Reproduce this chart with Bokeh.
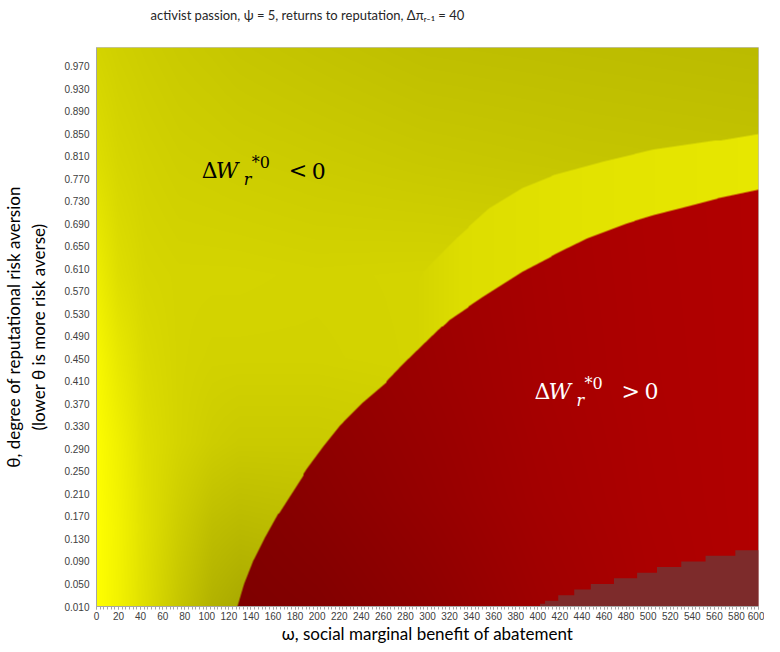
import numpy as np
from bokeh.plotting import figure
from bokeh.models import Range1d, FixedTicker, Label, NumeralTickFormatter, Title
from bokeh.embed import file_html
from bokeh.resources import INLINE

# ---------------- data ----------------
TITLE = "activist passion, ψ = 5, returns to reputation, Δπᵣ₋₁ = 40"
X_LABEL = "ω, social marginal benefit of abatement"
Y_LABEL = "θ, degree of reputational risk aversion\n(lower θ is more risk averse)"

x_ticks = [0, 20, 40, 60, 80, 100, 120, 140, 160, 180, 200, 220, 240, 260, 280, 300,
           320, 340, 360, 380, 400, 420, 440, 460, 480, 500, 520, 540, 560, 580, 600]
y_ticks = [0.010, 0.050, 0.090, 0.130, 0.170, 0.210, 0.250, 0.290, 0.330, 0.370, 0.410,
           0.450, 0.490, 0.530, 0.570, 0.610, 0.650, 0.690, 0.730, 0.770, 0.810, 0.850,
           0.890, 0.930, 0.970]

# sign-change boundary of ΔW_r*0 (below/right of it ΔW_r*0 > 0)
boundary_omega = [128, 134, 142, 153, 164, 177, 191, 206, 221, 240, 262, 278, 301, 320,
                  350, 386, 420, 445, 480, 505, 535, 564, 600]
boundary_theta = [0.010, 0.050, 0.090, 0.133, 0.172, 0.212, 0.255, 0.295, 0.332, 0.370,
                  0.407, 0.440, 0.484, 0.520, 0.560, 0.605, 0.640, 0.664, 0.690, 0.705,
                  0.720, 0.735, 0.750]

# upper edge of the lighter band of the ΔW_r*0 < 0 surface
band_omega = [262, 268, 275, 285, 296, 326, 356, 386, 415, 460, 505, 564, 600]
band_theta = [0.407, 0.460, 0.520, 0.570, 0.605, 0.664, 0.717, 0.753, 0.776, 0.800,
              0.821, 0.838, 0.850]

# lowest band of the ΔW_r*0 > 0 surface (stepped, bottom right)
low_omega = [402, 406.5, 418.5, 433, 448, 469, 490, 508, 530, 552, 579]
low_theta = [0.015, 0.020, 0.030, 0.040, 0.050, 0.060, 0.070, 0.080, 0.090, 0.100, 0.110]

X0, X1 = 0, 600
Y0, Y1 = 0.01, 1.003

# ---------------- surface shading (style) ----------------
ygx = [0, 20, 45, 75, 105, 130, 200, 300, 450, 600]
ygy = [0.01, 0.15, 0.30, 0.45, 0.60, 0.80, 1.00]
ygv = [[255, 242, 222, 198, 178, 170, 175, 180, 185, 185],
       [255, 243, 224, 205, 190, 186, 190, 195, 195, 195],
       [253, 240, 222, 212, 205, 202, 202, 205, 205, 205],
       [248, 232, 218, 212, 210, 210, 210, 212, 212, 212],
       [238, 222, 214, 212, 212, 212, 211, 212, 210, 208],
       [222, 214, 210, 207, 206, 205, 203, 200, 197, 195],
       [212, 208, 205, 202, 200, 198, 195, 191, 189, 187]]
rgx = [125, 200, 300, 400, 500, 600]
rgy = [0.01, 0.2, 0.4, 0.75]
rgv = [[126, 130, 142, 158, 170, 177],
       [130, 138, 150, 163, 172, 177],
       [135, 145, 155, 166, 173, 177],
       [140, 150, 160, 168, 174, 177]]
band_gx = [262, 290, 330, 450, 600]
band_gv = [205, 212, 221, 227, 231]


def bilinear(gx, gy, gv, xs, ys):
    rows = np.array([np.interp(xs, gx, r) for r in gv])
    gy = np.asarray(gy)
    idx = np.clip(np.searchsorted(gy, ys) - 1, 0, len(gy) - 2)
    t = np.clip((ys - gy[idx]) / (gy[idx + 1] - gy[idx]), 0, 1)
    return rows[idx] * (1 - t)[:, None] + rows[idx + 1] * t[:, None]


W, H = 670, 562
S = 4
xs = (np.arange(W) + 0.5) / W * (X1 - X0) + X0
ys = (np.arange(H) + 0.5) / H * (Y1 - Y0) + Y0
xs_s = (np.arange(W * S) + 0.5) / (W * S) * (X1 - X0) + X0
ys_s = (np.arange(H * S) + 0.5) / (H * S) * (Y1 - Y0) + Y0

yel = bilinear(ygx, ygy, ygv, xs, ys)
red = bilinear(rgx, rgy, rgv, xs, ys)
band = np.maximum(yel, np.interp(xs, band_gx, band_gv)[None, :])

b_top_s = np.interp(xs_s, boundary_omega, boundary_theta, left=-1.0)
band_top_s = np.interp(xs_s, band_omega, band_theta, left=-1.0)
red_s = ys_s[:, None] < b_top_s[None, :]
band_s = (~red_s) & (ys_s[:, None] < band_top_s[None, :]) & (xs_s[None, :] >= 262)
cov_red = red_s.reshape(H, S, W, S).mean(axis=(1, 3))
cov_band = band_s.reshape(H, S, W, S).mean(axis=(1, 3))
cov_yel = 1.0 - cov_red - cov_band

Rc = cov_yel * yel + cov_band * band + cov_red * red
Gc = cov_yel * yel + cov_band * band

img = np.zeros((H, W, 4), dtype=np.uint8)
img[..., 0] = np.clip(np.round(Rc), 0, 255)
img[..., 1] = np.clip(np.round(Gc), 0, 255)
img[..., 2] = 0
img[..., 3] = 255
rgba = img.view(dtype=np.uint32).reshape((H, W))

# ---------------- figure ----------------
p = figure(width=764, height=646, x_range=Range1d(X0, X1), y_range=Range1d(Y0, Y1),
           output_backend="svg", toolbar_location=None,
           min_border_left=92, min_border_right=6, min_border_top=47, min_border_bottom=20,
           title=TITLE)
p.grid.visible = False
p.background_fill_color = "white"
p.outline_line_color = "#BFBFBF"

p.image_rgba(image=[rgba], x=X0, y=Y0, dw=X1 - X0, dh=Y1 - Y0)

# stepped lowest band
px, py = [low_omega[0]], [Y0]
for k in range(len(low_omega)):
    xa = low_omega[k]
    xb = low_omega[k + 1] if k + 1 < len(low_omega) else X1
    px += [xa, xb]
    py += [low_theta[k], low_theta[k]]
px += [X1]
py += [Y0]
p.patch(px, py, fill_color="#7D2B2B", line_color=None)

# gap between title and plot area (blank spacer title)
p.add_layout(Title(text=" ", text_font_size="13px", standoff=5), "above")

# title
p.title.text_font = "Lato"
p.title.text_font_size = "13px"
p.title.text_font_style = "normal"
p.title.text_color = "#262626"
p.title.align = "left"
p.title.offset = 54
p.title.vertical_align = "top"
p.title.standoff = 2

# axes
p.xaxis.ticker = FixedTicker(ticks=x_ticks,
                             minor_ticks=list(np.arange(0, 600.01, 20 / 6)))
p.yaxis.ticker = FixedTicker(ticks=y_ticks)
p.yaxis.formatter = NumeralTickFormatter(format="0.000")
for ax in (p.xaxis, p.yaxis):
    ax.major_label_text_font = "Liberation Sans"
    ax.major_label_text_font_size = "10px"
    ax.major_label_text_color = "#404040"
    ax.axis_line_color = "#A6A6A6"
    ax.axis_label_text_font = "Lato"
    ax.axis_label_text_font_size = "17px"
    ax.axis_label_text_font_style = "normal"
    ax.axis_label_text_color = "#000000"
p.xaxis.major_tick_line_color = "#A6A6A6"
p.xaxis.minor_tick_line_color = "#A6A6A6"
p.xaxis.major_tick_in = 0
p.xaxis.major_tick_out = 3
p.xaxis.minor_tick_in = 0
p.xaxis.minor_tick_out = 3
p.xaxis.major_label_standoff = 2
p.xaxis.major_label_text_line_height = 1.0
p.xaxis.axis_label = X_LABEL
p.xaxis.axis_label_standoff = 0
p.xaxis.axis_label_text_line_height = 1.0
p.yaxis.major_tick_line_color = None
p.yaxis.minor_tick_line_color = None
p.yaxis.major_tick_in = 0
p.yaxis.major_tick_out = 0
p.yaxis.minor_tick_in = 0
p.yaxis.minor_tick_out = 0
p.yaxis.major_label_standoff = 7
p.yaxis.axis_label = Y_LABEL
p.yaxis.axis_label_standoff = 12

# region annotations
def region_label(x, y, color, sign):
    common = dict(x=x, y=y, text_color=color, text_baseline="alphabetic",
                  text_font="DejaVu Serif")
    p.add_layout(Label(text="Δ", text_font_size="22px", x_offset=0, **common))
    p.add_layout(Label(text="W", text_font_size="22px", text_font_style="italic",
                       x_offset=14, **common))
    p.add_layout(Label(text="r", text_font_size="16px", text_font_style="italic",
                       x_offset=42, y_offset=-9, **common))
    p.add_layout(Label(text="*0", text_font_size="16px", x_offset=50, y_offset=8, **common))
    p.add_layout(Label(text=sign, text_font_size="22px", x_offset=87, **common))
    p.add_layout(Label(text="0", text_font_size="22px", x_offset=110, **common))

region_label(95.5, 0.784, "black", "<")
region_label(397, 0.392, "white", ">")

open("out.html", "w").write(file_html(p, INLINE))
